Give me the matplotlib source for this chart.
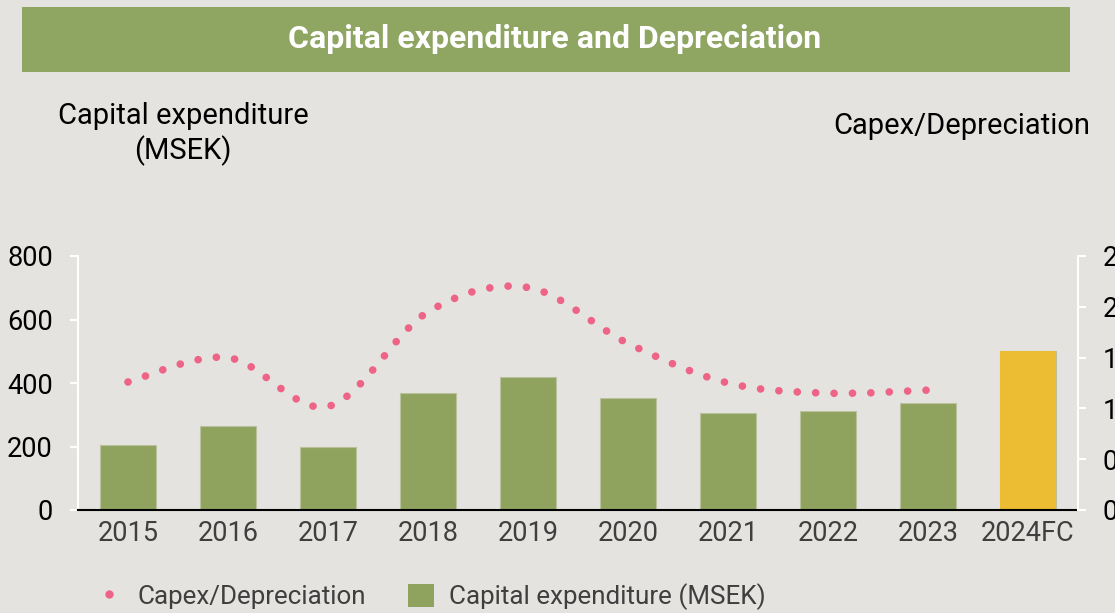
import matplotlib.pyplot as plt
from matplotlib.path import Path
from matplotlib.patches import PathPatch, Rectangle, Patch
from matplotlib.lines import Line2D

# -------- DATA --------
years = ["2015", "2016", "2017", "2018", "2019", "2020", "2021", "2022", "2023", "2024FC"]
capex = [205, 265, 198, 368, 419, 353, 305, 312, 337, 500]
capex_dep = [1.26, 1.50, 1.02, 1.95, 2.19, 1.64, 1.25, 1.15, 1.18]

# -------- STYLE --------
BG = "#e5e3e0"
GREEN = "#8fa35f"
YELLOW = "#ecbd33"
PINK = "#ee6487"
TXT = "#3f3f3f"

plt.rcParams["font.family"] = ["Roboto", "DejaVu Sans"]

fig = plt.figure(figsize=(11.15, 6.13), dpi=100, facecolor=BG)
ax = fig.add_axes([78 / 1115, 1 - 510 / 613, 1000 / 1115, 254 / 613])
ax.set_facecolor(BG)

x = list(range(len(years)))
colors = [GREEN] * (len(years) - 1) + [YELLOW]
ax.bar(x, capex, width=0.56, color=colors, edgecolor="#b9c29c", linewidth=0.8, zorder=2)
ax.bar(x[-1], capex[-1], width=0.56, color=YELLOW, zorder=3)

ax.set_xlim(-0.5, len(years) - 0.5)
ax.set_ylim(0, 800)
ax.set_yticks([0, 200, 400, 600, 800])
ax.set_xticks(x)
ax.set_xticklabels(years)
ax.tick_params(axis="x", length=0, pad=7, labelsize=19.5, labelcolor=TXT)
ax.tick_params(axis="y", length=6, width=1.5, color="white", pad=12, labelsize=19.5, labelcolor="black")
for s in ["top", "right"]:
    ax.spines[s].set_visible(False)
ax.spines["left"].set_color("white")
ax.spines["left"].set_linewidth(1.5)
ax.spines["bottom"].set_color("black")
ax.spines["bottom"].set_linewidth(1.5)
ax.spines["bottom"].set_zorder(5)

# secondary axis
ax2 = ax.twinx()
ax2.set_ylim(0, 2.5)
ax2.set_yticks([0, 0.5, 1.0, 1.5, 2.0, 2.5])
ax2.set_yticklabels(["0.0", "0.5", "1.0", "1.5", "2.0", "2.5"])
ax2.tick_params(axis="y", length=6, width=1.5, color="white", pad=12, labelsize=19.5, labelcolor="black")
for s in ["top", "left", "bottom"]:
    ax2.spines[s].set_visible(False)
ax2.spines["right"].set_color("white")
ax2.spines["right"].set_linewidth(1.5)

# smoothed dotted line (Bezier through the points)
pts = list(zip(x[:len(capex_dep)], capex_dep))
verts = [pts[0]]
codes = [Path.MOVETO]
n = len(pts)
for i in range(n - 1):
    p0 = pts[i - 1] if i > 0 else pts[i]
    p1 = pts[i]
    p2 = pts[i + 1]
    p3 = pts[i + 2] if i + 2 < n else pts[i + 1]
    c1 = (p1[0] + (p2[0] - p0[0]) / 6, p1[1] + (p2[1] - p0[1]) / 6)
    c2 = (p2[0] - (p3[0] - p1[0]) / 6, p2[1] - (p3[1] - p1[1]) / 6)
    verts += [c1, c2, p2]
    codes += [Path.CURVE4] * 3
patch = PathPatch(Path(verts, codes), facecolor="none", edgecolor=PINK,
                  linewidth=5.5, linestyle=(0, (0.01, 2.4)), capstyle="round",
                  transform=ax2.transData, zorder=4)
ax2.add_patch(patch)

# title banner
fig.patches.append(Rectangle((22 / 1115, 1 - 72 / 613), 1048 / 1115, 65 / 613,
                             transform=fig.transFigure, facecolor="#8fa562",
                             edgecolor="none", zorder=0))
fig.text(555 / 1115, 1 - 39 / 613, "Capital expenditure and Depreciation",
         ha="center", va="center", color="white", fontsize=23, fontweight="bold")

fig.text(183 / 1115, 1 - 134 / 613, "Capital expenditure\n(MSEK)", ha="center",
         va="center", fontsize=21, color="black", linespacing=1.2)
fig.text(962 / 1115, 1 - 126 / 613, "Capex/Depreciation", ha="center",
         va="center", fontsize=21, color="black")

handles = [Line2D([], [], linestyle="none", marker="o", markersize=5,
                  color=PINK),
           Patch(facecolor=GREEN, edgecolor="none")]
fig.legend(handles, ["Capex/Depreciation", "Capital expenditure (MSEK)"],
           loc="center", bbox_to_anchor=(431 / 1115, 1 - 597 / 613), ncol=2,
           frameon=False, fontsize=18.7, labelcolor=TXT, handlelength=1.0,
           handleheight=1.0, columnspacing=1.6, handletextpad=0.6,
           borderpad=0)

fig.savefig("out.png", dpi=100, facecolor=BG)
